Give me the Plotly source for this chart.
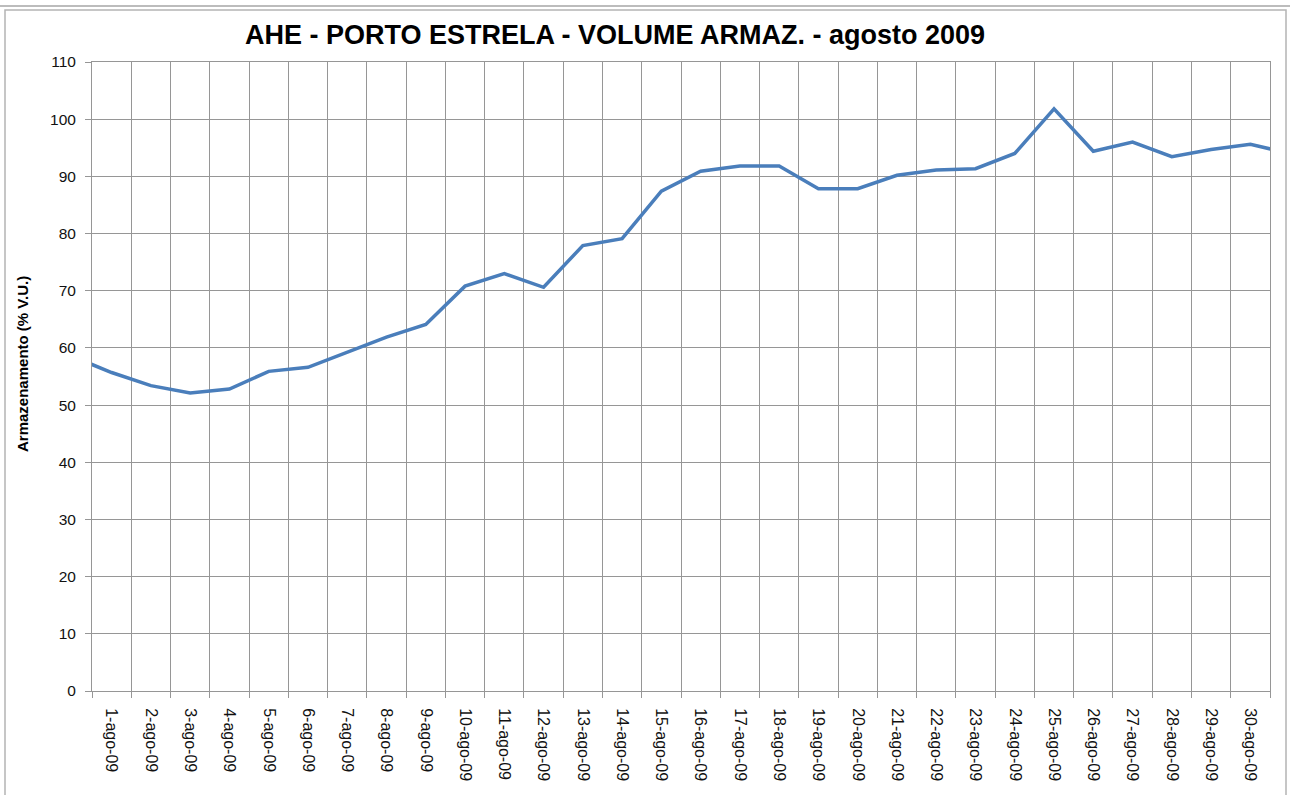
import plotly.graph_objects as go

# ---- data ----
dates = ["31-jul-09"] + [f"{d}-ago-09" for d in range(1, 32)]
volume = [58.5, 55.7, 53.4, 52.1, 52.8, 55.9, 56.6, 59.3, 61.9, 64.1,
          70.8, 73.0, 70.6, 77.9, 79.1, 87.4, 90.9, 91.8, 91.8, 87.85,
          87.85, 90.2, 91.1, 91.35, 94.0, 101.8, 94.4, 96.0, 93.45, 94.7,
          95.6, 94.0]
y_ticks = list(range(0, 111, 10))

title_text = "AHE - PORTO ESTRELA - VOLUME ARMAZ. - agosto 2009"
y_title = "Armazenamento (% V.U.)"

x_idx = list(range(len(dates)))

# ---- layout geometry (pixels) ----
W, H = 1290, 795
L, R, T, B = 92, 1270, 62, 691


def px_x(px):
    return (px - L) / (R - L)


def px_y(py):
    return (B - py) / (B - T)


GRID = "#969696"
FONT = "Liberation Sans, Arial, sans-serif"

fig = go.Figure()
fig.add_trace(go.Scatter(
    x=x_idx, y=volume, mode="lines",
    line=dict(color="#4a7ebb", width=3.5),
    hoverinfo="skip", showlegend=False,
))

fig.update_layout(
    width=W, height=H,
    margin=dict(l=L, r=W - R, t=T, b=H - B, pad=0),
    paper_bgcolor="white", plot_bgcolor="white",
    font=dict(family=FONT, color="#111111"),
    title=dict(text=title_text, x=px_x(615), xref="paper", xanchor="center",
               y=1 - 35 / H, yref="container", yanchor="middle",
               font=dict(family=FONT, size=27, color="#000000", weight="bold")),
    showlegend=False,
)

fig.update_xaxes(
    range=[0.5, 30.5],
    tickmode="array", tickvals=x_idx, ticktext=dates,
    tickangle=90, ticks="", showgrid=False,
    tickfont=dict(family=FONT, size=16, color="#111111"),
    ticklabelstandoff=13,
    minor=dict(tickvals=[i + 0.5 for i in x_idx[:-1]], showgrid=True,
               gridcolor=GRID, gridwidth=1, ticks="outside", ticklen=6,
               tickcolor=GRID),
    showline=True, linecolor=GRID, linewidth=1, mirror=True,
    zeroline=False, fixedrange=True,
)

fig.update_yaxes(
    range=[0, 110], tickmode="array", tickvals=y_ticks,
    ticks="outside", ticklen=6, tickcolor=GRID,
    showgrid=True, gridcolor=GRID, gridwidth=1,
    tickfont=dict(family=FONT, size=15.5, color="#111111"),
    ticklabelstandoff=6,
    showline=True, linecolor=GRID, linewidth=1, mirror=True,
    zeroline=False, fixedrange=True,
)

fig.add_annotation(
    text="<b>" + y_title + "</b>", textangle=-90,
    x=px_x(22), y=px_y(364), xref="paper", yref="paper",
    xanchor="center", yanchor="middle", showarrow=False,
    font=dict(family=FONT, size=15, color="#000000"),
)

# outer frame lines of the chart object
fig.add_shape(type="line", xref="paper", yref="paper",
              x0=px_x(0), x1=px_x(W), y0=px_y(6), y1=px_y(6),
              line=dict(color="#a6a6a6", width=1.5), layer="above")
fig.add_shape(type="rect", xref="paper", yref="paper",
              x0=px_x(5), x1=px_x(1286), y0=px_y(810), y1=px_y(10),
              line=dict(color="#b4b4b4", width=1.5), layer="above")

fig.write_html(
    "out.html",
    config={"displayModeBar": False},
    post_script="document.body.style.margin='0';document.body.style.overflow='hidden';",
)
